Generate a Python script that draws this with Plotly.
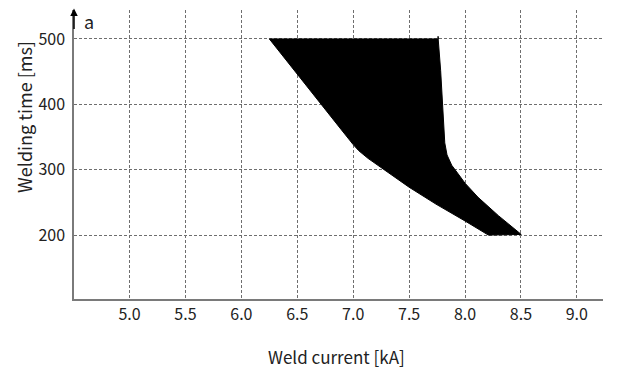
import plotly.graph_objects as go

# Process window boundary (weld current [kA], welding time [ms]), traced clockwise
window_current = [6.250, 7.760, 7.782, 7.802, 7.819, 7.839, 7.881, 7.938, 8.000, 8.117, 8.301, 8.503,
                  8.209, 8.000, 7.740, 7.500, 7.279, 7.132, 7.050, 7.000, 6.890, 6.714, 6.514, 6.361, 6.250]
window_time = [500, 500, 452, 400, 341, 322.6, 306.8, 293.8, 279.4, 257.7, 229.4, 201,
               200, 221.6, 247.4, 273.2, 300, 317.4, 329, 338.4, 362, 400, 443, 476, 500]
stub_current = [7.760, 7.759]
stub_time = [500, 504]

x_ticks = [5.0, 5.5, 6.0, 6.5, 7.0, 7.5, 8.0, 8.5, 9.0]
x_tick_labels = ["5.0", "5.5", "6.0", "6.5", "7.0", "7.5", "8.0", "8.5", "9.0"]
y_ticks = [200, 300, 400, 500]
y_tick_labels = ["200", "300", "400", "500"]

FONT = "Noto Sans CJK KR"
AX = "#7a7a7a"
GRID = "#6e6e6e"

fig = go.Figure()
fig.add_trace(go.Scatter(x=window_current, y=window_time, mode="lines", fill="toself",
                         fillcolor="black", line=dict(color="black", width=1),
                         hoverinfo="skip", showlegend=False))
fig.add_trace(go.Scatter(x=stub_current, y=stub_time, mode="lines",
                         line=dict(color="black", width=1.5), hoverinfo="skip", showlegend=False))

fig.update_layout(
    width=617, height=372,
    margin=dict(l=74, r=14, t=10, b=73),
    paper_bgcolor="white", plot_bgcolor="white",
    font=dict(family=FONT, color="#222222"),
    xaxis=dict(range=[4.503, 9.234], tickvals=x_ticks, ticktext=x_tick_labels,
               showgrid=True, gridcolor=GRID, gridwidth=1, griddash="3px,2px",
               showline=True, linecolor=AX, linewidth=1.5, zeroline=False,
               ticks="", tickfont=dict(size=16, family=FONT, color="#222222"),
               fixedrange=True),
    yaxis=dict(range=[102.3, 544.2], tickvals=y_ticks, ticktext=y_tick_labels,
               showgrid=True, gridcolor=GRID, gridwidth=1, griddash="3px,2px",
               showline=True, linecolor=AX, linewidth=1.5, zeroline=False,
               ticks="", ticklabelstandoff=4,
               tickfont=dict(size=16, family=FONT, color="#222222"),
               fixedrange=True),
)

annotations = [
    # x-axis arrow
    dict(x=9.315, y=0, xref="x", yref="paper", ax=-22, ay=0, axref="pixel", ayref="pixel",
         showarrow=True, arrowhead=2, arrowsize=1, arrowwidth=1.5, arrowcolor="black",
         text="", standoff=0),
    # y-axis arrow
    dict(x=0, y=1.005, xref="paper", yref="paper", ax=0, ay=22,
         showarrow=True, arrowhead=2, arrowsize=1, arrowwidth=1.5, arrowcolor="black",
         text="", standoff=0),
    dict(x=0.028, y=0.962, xref="paper", yref="paper", text="a", showarrow=False,
         font=dict(size=18, family=FONT, color="#222222"), xanchor="center", yanchor="middle"),
    dict(x=0.496, y=0, xref="paper", yref="paper", yshift=-57, text="Weld current [kA]",
         showarrow=False, font=dict(size=17, family=FONT, color="#222222"),
         xanchor="center", yanchor="middle"),
    dict(x=0, y=0.63, xref="paper", yref="paper", xshift=-50, text="Welding time [ms]",
         textangle=-90, showarrow=False, font=dict(size=18, family=FONT, color="#222222"),
         xanchor="center", yanchor="middle"),
]
fig.update_layout(annotations=annotations)

fig.write_html("out.html", config={"displayModeBar": False},
               post_script="document.body.style.margin='0';document.body.style.overflow='hidden';")
